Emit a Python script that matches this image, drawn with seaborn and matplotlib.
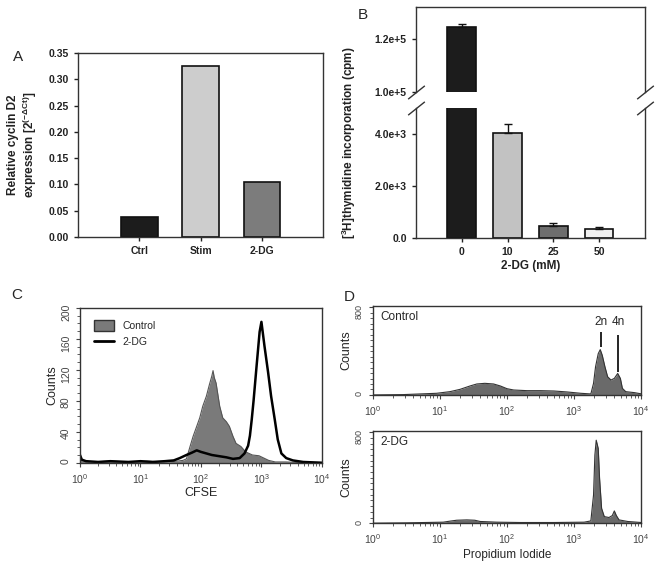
import numpy as np
import matplotlib
matplotlib.use('Agg')
import matplotlib.pyplot as plt
import seaborn as sns
from matplotlib.patches import Patch
from matplotlib.lines import Line2D
from matplotlib.ticker import MultipleLocator

# Panel A - cyclin D2 expression
a_labels = ['Ctrl', 'Stim', '2-DG']
a_values = [0.037, 0.325, 0.105]
a_colors = ['#1c1c1c', '#cdcdcd', '#7c7c7c']
a_yticks = [0.00, 0.05, 0.10, 0.15, 0.20, 0.25, 0.30, 0.35]

# Panel B - thymidine incorporation (broken axis)
b_labels = ['0', '10', '25', '50']
b_values = [124400, 4050, 450, 360]
b_errors = [1200, 340, 130, 40]
b_colors = ['#1c1c1c', '#c2c2c2', '#6e6e6e', '#f0f0f0']
b_top_ticks = [100000, 120000]
b_top_ticklabels = ['1.0e+5', '1.2e+5']
b_low_ticks = [0, 2000, 4000]
b_low_ticklabels = ['0.0', '2.0e+3', '4.0e+3']

# Panel C - CFSE histograms (log10 of CFSE, counts)
c_ctrl_log = [0.0, 0.2, 0.5, 0.8, 1.1, 1.4, 1.6, 1.7, 1.76, 1.82, 1.87, 1.93,
              1.98, 2.03, 2.09, 2.14, 2.18, 2.20, 2.22, 2.25, 2.31, 2.36, 2.42,
              2.47, 2.53, 2.58, 2.66, 2.74, 2.85, 2.96, 3.04, 3.12, 3.23, 3.4,
              3.7, 4.0]
c_ctrl_cnt = [3, 1, 2, 1, 2, 1, 2, 3, 5, 21, 34, 47, 58, 73, 86, 101, 112, 119,
              110, 103, 73, 58, 53, 47, 34, 25, 21, 14, 10, 9, 6, 3, 1, 1, 0, 0]
c_dg_log = [0.0, 0.03, 0.1, 0.3, 0.5, 0.8, 1.0, 1.2, 1.4, 1.55, 1.65, 1.76,
            1.85, 1.93, 2.0, 2.09, 2.18, 2.26, 2.34, 2.42, 2.53, 2.64, 2.72,
            2.78, 2.81, 2.84, 2.87, 2.92, 2.97, 3.00, 3.05, 3.11, 3.16, 3.22,
            3.27, 3.33, 3.41, 3.52, 3.69, 4.0]
c_dg_cnt = [10, 4, 2, 1, 2, 1, 2, 1, 2, 3, 6, 10, 13, 16, 14, 12, 10, 9, 8, 7,
            5, 6, 12, 22, 35, 56, 80, 125, 169, 182, 151, 117, 86, 56, 30, 12,
            6, 3, 1, 0]

# Panel D - propidium iodide histograms
d_ctrl_log = [0.0, 0.45, 0.70, 0.95, 1.15, 1.30, 1.45, 1.55, 1.67, 1.80, 1.90,
              2.00, 2.10, 2.30, 2.50, 2.70, 2.90, 3.10, 3.25, 3.29, 3.32, 3.36,
              3.39, 3.42, 3.46, 3.50, 3.55, 3.60, 3.65, 3.69, 3.72, 3.77, 3.90,
              4.0]
d_ctrl_cnt = [0, 3, 9, 15, 30, 51, 82, 100, 106, 100, 82, 57, 45, 39, 39, 36,
              27, 15, 9, 106, 257, 377, 414, 362, 257, 166, 136, 151, 196, 151,
              60, 30, 21, 10]
d_dg_log = [0.0, 0.5, 1.05, 1.15, 1.25, 1.40, 1.52, 1.60, 1.85, 2.2, 2.7, 3.15,
            3.25, 3.29, 3.31, 3.33, 3.36, 3.38, 3.41, 3.45, 3.52, 3.57, 3.60,
            3.63, 3.67, 3.80, 4.0]
d_dg_cnt = [0, 3, 9, 18, 26, 29, 26, 15, 9, 6, 6, 9, 20, 248, 599, 730, 657,
            394, 131, 58, 50, 67, 108, 67, 29, 15, 6]
ploidy_labels = ['2n', '4n']
ploidy_log = [3.40, 3.66]
ploidy_line_low = [437, 210]
ploidy_line_high = [573, 543]

sns.set_theme(style='ticks')
plt.rcParams['font.family'] = ['Liberation Sans', 'DejaVu Sans']
plt.rcParams['mathtext.fontset'] = 'custom'
plt.rcParams['mathtext.rm'] = 'Liberation Sans'
plt.rcParams['mathtext.it'] = 'Liberation Sans:italic'
plt.rcParams['mathtext.bf'] = 'Liberation Sans:bold'
plt.rcParams['axes.linewidth'] = 1.0
plt.rcParams['axes.edgecolor'] = '#333333'

fig = plt.figure(figsize=(6.61, 5.65), dpi=100)

# ---------- A ----------
ax = fig.add_axes([0.118, 0.581, 0.371, 0.325])
sns.barplot(x=a_labels, y=a_values, hue=a_labels, palette=a_colors, legend=False,
            saturation=1, width=0.6, edgecolor='#111111', linewidth=1.2, ax=ax)
ax.set_xlim(-1, 3)
ax.set_ylim(0, 0.35)
ax.set_yticks(a_yticks)
ax.set_yticklabels([f'{t:.2f}' for t in a_yticks])
ax.tick_params(labelsize=7.5, length=3, width=1, colors='#222222')
plt.setp(ax.get_xticklabels() + ax.get_yticklabels(), fontweight='bold')
ax.set_xlabel('')
ax.set_ylabel('')
fig.text(0.035, 0.743, 'Relative cyclin D2\nexpression [2$^{\\mathbf{(-\\Delta Ct)}}$]',
         rotation=90, ha='center', va='center', ma='center', fontsize=8.5,
         fontweight='bold', color='#222222', linespacing=1.15)
fig.text(18 / 661, 1 - 57 / 565, 'A', fontsize=11, ha='center', va='center')

# ---------- B ----------
ax_top = fig.add_axes([0.629, 0.837, 0.347, 0.151])
ax_low = fig.add_axes([0.629, 0.579, 0.347, 0.230])
for axb in (ax_top, ax_low):
    sns.barplot(x=b_labels, y=b_values, hue=b_labels, palette=b_colors, legend=False,
                saturation=1, width=0.62, edgecolor='#111111', linewidth=1.2, ax=axb)
    axb.errorbar(x=np.arange(len(b_values)), y=b_values,
                 yerr=[np.zeros(len(b_values)), b_errors], fmt='none',
                 ecolor='#111111', elinewidth=1, capsize=3, capthick=1)
    axb.set_xlim(-1, 4)
    axb.set_xlabel('')
    axb.set_ylabel('')
    axb.tick_params(labelsize=7.5, length=3, width=1, colors='#222222')

ax_top.set_ylim(100000, 132000)
ax_top.set_yticks(b_top_ticks)
ax_top.set_yticklabels(b_top_ticklabels)
ax_top.spines['bottom'].set_visible(False)
ax_top.tick_params(axis='x', bottom=False, labelbottom=False)
plt.setp(ax_top.get_yticklabels(), fontweight='bold')

ax_low.set_ylim(0, 5000)
ax_low.set_yticks(b_low_ticks)
ax_low.set_yticklabels(b_low_ticklabels)
ax_low.spines['top'].set_visible(False)
plt.setp(ax_low.get_xticklabels() + ax_low.get_yticklabels(), fontweight='bold')
ax_low.set_xlabel('2-DG (mM)', fontsize=8.5, fontweight='bold', color='#222222',
                  labelpad=2)

# break marks
brk = dict(marker=[(-1, -0.8), (1, 0.8)], markersize=12, linestyle='none',
           color='#333333', mec='#333333', mew=1, clip_on=False)
ax_top.plot([0, 1], [0, 0], transform=ax_top.transAxes, **brk)
ax_low.plot([0, 1], [1, 1], transform=ax_low.transAxes, **brk)

fig.text(349 / 661, 1 - 143 / 565, '[$^{\\mathbf{3}}$H]thymidine incorporation (cpm)',
         rotation=90, ha='center', va='center', fontsize=8.5, fontweight='bold',
         color='#222222')
fig.text(363 / 661, 1 - 15 / 565, 'B', fontsize=11, ha='center', va='center')

# ---------- C ----------
ax = fig.add_axes([0.121, 0.181, 0.366, 0.274])
ax.set_xscale('log')
cx = 10 ** np.array(c_ctrl_log)
ax.fill_between(cx, c_ctrl_cnt, color='#7a7a7a', lw=0)
sns.lineplot(x=cx, y=c_ctrl_cnt, color='#555555', lw=0.8, ax=ax)
sns.lineplot(x=10 ** np.array(c_dg_log), y=c_dg_cnt, color='black', lw=1.8, ax=ax)
ax.set_xlim(1, 1e4)
ax.set_ylim(0, 200)
ax.set_yticks([0, 40, 80, 120, 160, 200])
ax.yaxis.set_minor_locator(MultipleLocator(10))
ax.tick_params(axis='y', labelrotation=90)
ax.tick_params(labelsize=7.5, length=3, width=0.8, colors='#444444')
ax.tick_params(which='minor', length=2, width=0.6, colors='#444444')
ax.set_xlabel('CFSE', fontsize=9, labelpad=1)
ax.set_ylabel('Counts', fontsize=9, labelpad=2)
ax.legend(handles=[Patch(facecolor='#7a7a7a', edgecolor='#333333'),
                   Line2D([0], [0], color='black', lw=2)],
          labels=['Control', '2-DG'], loc='upper left', bbox_to_anchor=(0.02, 0.98),
          frameon=False, fontsize=7.5, handlelength=1.9, handleheight=1.2,
          labelspacing=0.5)
fig.text(17 / 661, 1 - 295 / 565, 'C', fontsize=11, ha='center', va='center')

# ---------- D ----------
ax_d1 = fig.add_axes([0.564, 0.301, 0.406, 0.157])
ax_d2 = fig.add_axes([0.564, 0.074, 0.406, 0.163])
for axd, lg, cnt, name in ((ax_d1, d_ctrl_log, d_ctrl_cnt, 'Control'),
                           (ax_d2, d_dg_log, d_dg_cnt, '2-DG')):
    axd.set_xscale('log')
    dx = 10 ** np.array(lg)
    axd.fill_between(dx, cnt, color='#6a6a6a', lw=0)
    sns.lineplot(x=dx, y=cnt, color='#333333', lw=0.8, ax=axd)
    axd.set_xlim(1, 1e4)
    axd.set_ylim(0, 810)
    axd.set_yticks([0, 800])
    axd.yaxis.set_minor_locator(MultipleLocator(50))
    axd.tick_params(axis='y', labelrotation=90, labelsize=6.5)
    axd.tick_params(axis='x', labelsize=7.5)
    axd.tick_params(length=3, width=0.8, colors='#444444')
    axd.tick_params(which='minor', length=2, width=0.6, colors='#444444')
    axd.set_ylabel('Counts', fontsize=9, labelpad=2)
    axd.set_xlabel('')
    axd.text(0.03, 0.88, name, transform=axd.transAxes, fontsize=8.5,
             ha='left', va='center')

ax_d2.set_xlabel('Propidium Iodide', fontsize=8.5, labelpad=2)
px = 10 ** np.array(ploidy_log)
ax_d1.vlines(px, ploidy_line_low, ploidy_line_high, color='black', lw=1.2)
for lab, x in zip(ploidy_labels, px):
    ax_d1.text(x, 610, lab, fontsize=8.5, ha='center', va='bottom')
fig.text(349 / 661, 1 - 297 / 565, 'D', fontsize=11, ha='center', va='center')

fig.savefig('out.png', dpi=100)
